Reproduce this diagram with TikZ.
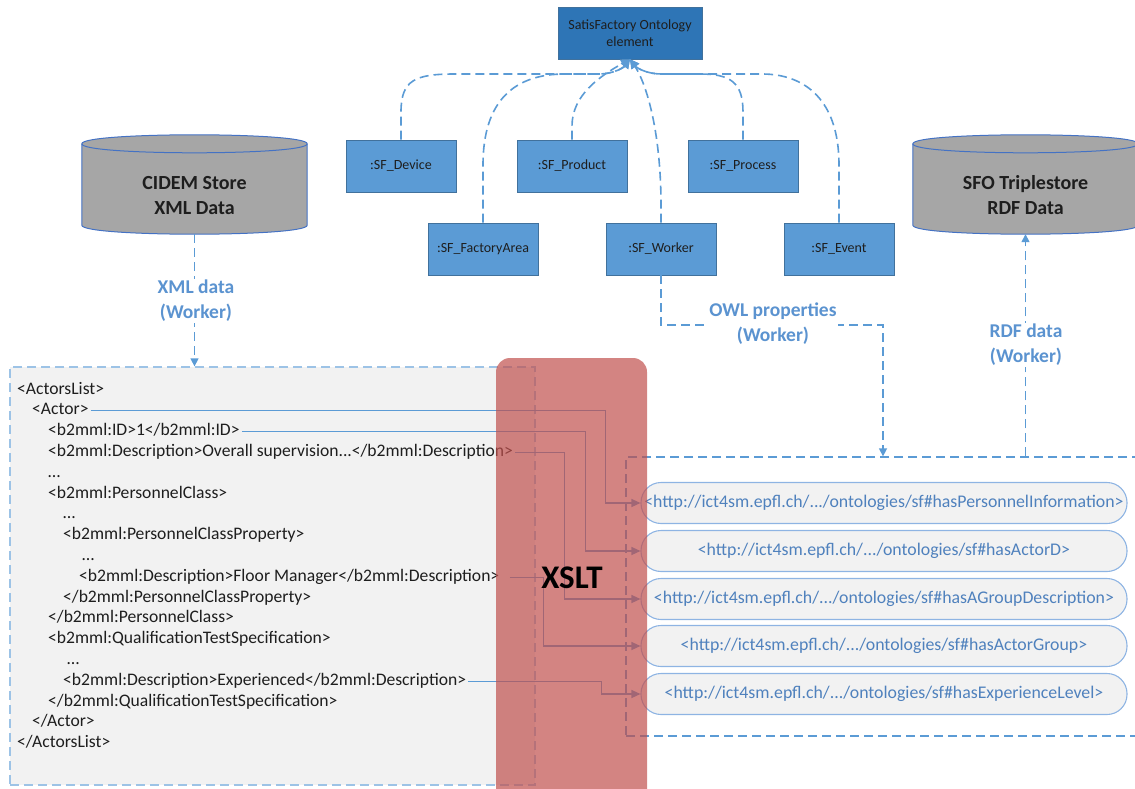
\documentclass[tikz,border=0pt]{standalone}
\usepackage{fontspec}
\setmainfont{Carlito}
\usetikzlibrary{arrows.meta,shadows}

\definecolor{sfblue}{HTML}{5B9BD5}
\definecolor{sfdark}{HTML}{2E75B6}
\definecolor{sfedge}{HTML}{41719C}
\definecolor{txtdark}{HTML}{1E1E1E}
\definecolor{panelgray}{HTML}{F2F2F2}
\definecolor{paneledge}{HTML}{9DC3E6}
\definecolor{pilledge}{HTML}{8EB4E3}
\definecolor{pilltext}{HTML}{4F81BD}
\definecolor{cylgray}{HTML}{A6A6A6}
\definecolor{cyledge}{HTML}{4472C4}
\definecolor{xsltred}{HTML}{C0504D}
\definecolor{lblblue}{HTML}{5B93D0}

\begin{document}
\begin{tikzpicture}[x=1pt,y=-1pt,
  onto/.style={draw=sfedge, line width=0.6pt, fill=sfblue, minimum width=110pt, minimum height=52pt,
    inner sep=2pt, text=txtdark, font=\fontsize{14}{16}\selectfont,
    drop shadow={shadow xshift=1.2pt, shadow yshift=-1.2pt, opacity=0.25}},
  topbox/.style={onto, fill=sfdark, minimum width=144pt, align=center, font=\fontsize{14}{17}\selectfont},
  dflow/.style={draw=sfblue, line width=1.6pt, dash pattern=on 9pt off 5pt,
    -{Triangle[length=9pt,width=9pt]}},
  panel/.style={draw=paneledge, line width=1.3pt, dash pattern=on 9pt off 5pt},
  codeline/.style={anchor=west, inner sep=2pt, text=txtdark, text height=11pt, text depth=3pt,
    font=\fontsize{17.6}{20}\selectfont},
  pill/.style={draw=pilledge, line width=1.1pt, fill=panelgray, rounded corners=20pt,
    minimum width=486pt, minimum height=41pt, inner sep=0pt, text=pilltext,
    font=\fontsize{17.8}{20}\selectfont},
  conn/.style={draw=sfblue, line width=1.2pt, -{Triangle[length=9pt,width=8pt]}},
  flowlbl/.style={fill=white, inner sep=1pt, align=center, text=lblblue,
    font=\fontsize{19.5}{25}\selectfont\bfseries},
  cyl/.style={draw=cyledge, line width=1pt, fill=cylgray},
  cyllbl/.style={align=center, text=txtdark, font=\fontsize{20}{25}\selectfont\bfseries},
  slab/.style={draw=none, minimum width=225pt, minimum height=99pt, inner sep=0pt}
]
\useasboundingbox (0,0) rectangle (1135,789);
\clip (0,0) rectangle (1135,789);

% ontology hierarchy
\node[topbox] (satis) at (630,33) {SatisFactory Ontology\\element};
\node[onto] (dev)  at (401,166) {:SF\_Device};
\node[onto] (prod) at (572,166) {:SF\_Product};
\node[onto] (proc) at (743,166) {:SF\_Process};
\node[onto] (area) at (483,249) {:SF\_FactoryArea};
\node[onto] (work) at (661,249) {:SF\_Worker};
\node[onto] (evnt) at (839,249) {:SF\_Event};

\draw[dflow] (dev.north) -- (401,112) .. controls (401,80) and (415,74) .. (455,74)
  -- (598,74) .. controls (615,74) and (624,67) .. (satis.south);
\draw[dflow] (area.north) -- (483,165) .. controls (483,100) and (515,74) .. (565,74)
  -- (598,74) .. controls (615,74) and (624,67) .. (satis.south);
\draw[dflow] (prod.north) -- (572,126) .. controls (572,95) and (600,76) .. (satis.south);
\draw[dflow] (work.north) -- (661,200) .. controls (660,120) and (643,78) .. (satis.south);
\draw[dflow] (proc.north) -- (743,112) .. controls (743,82) and (730,74) .. (700,74)
  -- (662,74) .. controls (645,74) and (636,67) .. (satis.south);
\draw[dflow] (evnt.north) -- (839,165) .. controls (839,100) and (805,74) .. (762,74)
  -- (662,74) .. controls (645,74) and (636,67) .. (satis.south);

% data stores (body, back rim, front rim)
\node[slab] (cidem) at (194.5,184.5) {};
\coordinate (cA) at ([yshift=-9pt]cidem.north west);
\coordinate (cB) at ([yshift=9pt]cidem.south west);
\coordinate (cC) at ([yshift=9pt]cidem.south east);
\coordinate (cD) at ([yshift=-9pt]cidem.north east);
\path[cyl] (cA) -- (cB) .. controls +(0,12) and +(0,12) .. (cC)
  -- (cD) .. controls +(0,-12) and +(0,-12) .. (cA) -- cycle;
\draw[cyledge, line width=1pt] (cA) .. controls +(0,12) and +(0,12) .. (cD);
\node[cyllbl] (cidemlbl) at (194.5,195.5) {CIDEM Store\\XML Data};

\node[slab] (sfo) at (1025.5,184.5) {};
\coordinate (sA) at ([yshift=-9pt]sfo.north west);
\coordinate (sB) at ([yshift=9pt]sfo.south west);
\coordinate (sC) at ([yshift=9pt]sfo.south east);
\coordinate (sD) at ([yshift=-9pt]sfo.north east);
\path[cyl] (sA) -- (sB) .. controls +(0,12) and +(0,12) .. (sC)
  -- (sD) .. controls +(0,-12) and +(0,-12) .. (sA) -- cycle;
\draw[cyledge, line width=1pt] (sA) .. controls +(0,12) and +(0,12) .. (sD);
\node[cyllbl] (sfolbl) at (1025.5,195.5) {SFO Triplestore\\RDF Data};

% XML source panel
\node[panel, fill=panelgray, minimum width=525pt, minimum height=418pt, inner sep=0pt] (xmlbox) at (272.5,576) {};
\node[codeline] (x1)  at (15,390)    {<ActorsList>};
\node[codeline] (x2)  at (30,410.8)  {<Actor>};
\node[codeline] (x3)  at (46,431.6)  {<b2mml:ID>1</b2mml:ID>};
\node[codeline] (x4)  at (46,452.4)  {<b2mml:Description>Overall supervision...</b2mml:Description>};
\node[codeline] (x5)  at (46,473.2)  {…};
\node[codeline] (x6)  at (46,494)    {<b2mml:PersonnelClass>};
\node[codeline] (x7)  at (61,514.8)  {…};
\node[codeline] (x8)  at (61,535.6)  {<b2mml:PersonnelClassProperty>};
\node[codeline] (x9)  at (80,556.4)  {…};
\node[codeline] (x10) at (77,577.2)  {<b2mml:Description>Floor Manager</b2mml:Description>};
\node[codeline] (x11) at (61,598)    {</b2mml:PersonnelClassProperty>};
\node[codeline] (x12) at (46,618.8)  {</b2mml:PersonnelClass>};
\node[codeline] (x13) at (46,639.6)  {<b2mml:QualificationTestSpecification>};
\node[codeline] (x14) at (65,660.4)  {…};
\node[codeline] (x15) at (61,681.2)  {<b2mml:Description>Experienced</b2mml:Description>};
\node[codeline] (x16) at (46,702)    {</b2mml:QualificationTestSpecification>};
\node[codeline] (x17) at (30,722.8)  {</Actor>};
\node[codeline] (x18) at (15,743.6)  {</ActorsList>};

% RDF target panel
\node[panel, draw=sfblue, minimum width=524pt, minimum height=279pt, inner sep=0pt] (rbox) at (888,596.5) {};
\node[pill] (p1) at (884,503) {<http://ict4sm.epfl.ch/.../ontologies/sf\#hasPersonnelInformation>};
\node[pill] (p2) at (884,551) {<http://ict4sm.epfl.ch/.../ontologies/sf\#hasActorD>};
\node[pill] (p3) at (884,599) {<http://ict4sm.epfl.ch/.../ontologies/sf\#hasAGroupDescription>};
\node[pill] (p4) at (884,646) {<http://ict4sm.epfl.ch/.../ontologies/sf\#hasActorGroup>};
\node[pill] (p5) at (884,694) {<http://ict4sm.epfl.ch/.../ontologies/sf\#hasExperienceLevel>};

% mappings
\draw[conn] (x2.east)  -| ([xshift=-35pt]p1.west) -- (p1.west);
\draw[conn] (x3.east)  -| ([xshift=-55pt]p2.west) -- (p2.west);
\draw[conn] (x4.east)  -| ([xshift=-76pt]p3.west) -- (p3.west);
\draw[conn] ([xshift=8pt]x10.east) -| ([xshift=-97pt]p4.west) -- (p4.west);
\draw[conn] (x15.east) -| ([xshift=-39pt]p5.west) -- (p5.west);

% data flows between stores and panels
\draw[dflow, line width=1.4pt, -{Triangle[length=8pt,width=8pt]}] (cidem.south) -- (xmlbox.north -| cidem.south);
\node[flowlbl] (xmllbl) at (196,301) {XML data\\(Worker)};

\coordinate (owlturn) at (883,325);
\draw[dflow, line width=1.4pt, -{Triangle[length=8pt,width=8pt]}] (work.south) |- (owlturn) -- (owlturn |- rbox.north);
\node[flowlbl] (owllbl) at (773,324) {OWL properties\\(Worker)};

\draw[dflow, line width=1.4pt, -{Triangle[length=8pt,width=8pt]}] (rbox.north -| sfo.south) -- (sfo.south);
\node[flowlbl] (rdflbl) at (1026,345) {RDF data\\(Worker)};

% transformation band
\node[draw=none, fill=xsltred, fill opacity=0.7, rounded corners=14pt,
  minimum width=151pt, minimum height=460pt, inner sep=0pt] (xslt) at (571.5,588) {};
\node[text=black, font=\fontsize{33}{36}\selectfont\bfseries] (xsltlbl) at (572,578) {XSLT};
\end{tikzpicture}
\end{document}
